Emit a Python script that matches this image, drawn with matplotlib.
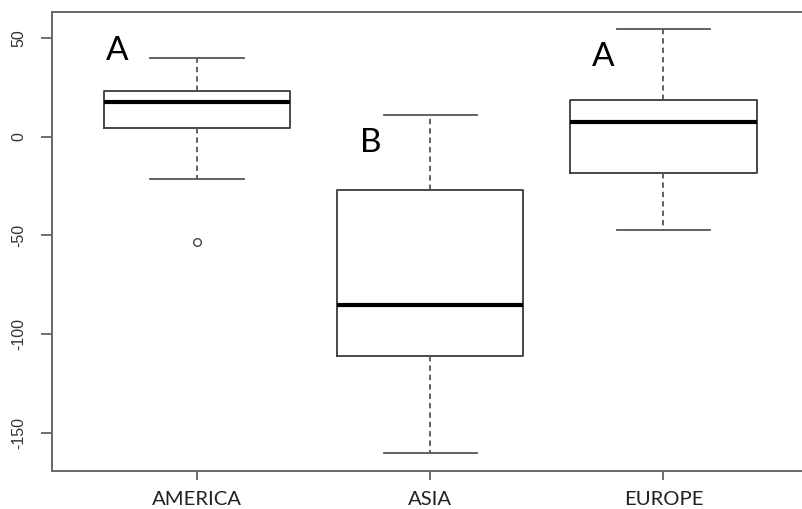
import matplotlib
matplotlib.use("Agg")
import matplotlib.pyplot as plt

categories = ["AMERICA", "ASIA", "EUROPE"]
whisker_low = [-21.5, -160.5, -47.3]
q1 = [4.3, -111.4, -18.3]
median = [17.6, -85.3, 7.6]
q3 = [23.0, -27.2, 18.6]
whisker_high = [39.9, 11.0, 54.6]
outliers = [[-53.4], [], []]
letters = ["A", "B", "A"]
letter_x = [0.659, 1.746, 2.740]
letter_y = [43.5, -3.2, 40.2]
yticks = [-150, -100, -50, 0, 50]

W, H = 802, 509
fig = plt.figure(figsize=(W / 100, H / 100), dpi=100)
left, right, top, bottom = 51.7, 808.0, 11.7, 470.7
ax = fig.add_axes([left / W, 1 - bottom / H, (right - left) / W, (bottom - top) / H])

stats = []
for i, c in enumerate(categories):
    stats.append(dict(label=c, med=median[i], q1=q1[i], q3=q3[i],
                      whislo=whisker_low[i], whishi=whisker_high[i],
                      fliers=outliers[i]))

edge = "#3a3a3a"
ax.bxp(stats, positions=[1, 2, 3], widths=0.8, showfliers=True,
       boxprops=dict(color=edge, linewidth=1.3),
       medianprops=dict(color="black", linewidth=3.0),
       whiskerprops=dict(color="#555555", linewidth=1.3, linestyle=(0, (3.0, 2.2))),
       capprops=dict(color="#555555", linewidth=1.3),
       capwidths=0.4,
       flierprops=dict(marker="o", markersize=5.5, markerfacecolor="white",
                       markeredgecolor="#444444", markeredgewidth=1.0))

for lx, ly, t in zip(letter_x, letter_y, letters):
    ax.text(lx, ly, t, ha="center", va="center", fontsize=24, family="Lato", color="black")

ax.set_xlim(0.377, 3.62)
ax.set_ylim(-169.3, 63.4)
ax.set_yticks(yticks)
ax.set_yticklabels([str(v) for v in yticks], rotation=90, va="center",
                   fontsize=11.5, family="Liberation Sans", color="#333333")
ax.set_xticks([1, 2, 3])
ax.set_xticklabels(categories, fontsize=14.6, family="Lato", color="#222222")
ax.tick_params(axis="y", length=7.7, width=1.2, color="#555555", pad=10.8)
ax.tick_params(axis="x", length=6.5, width=1.2, color="#555555", pad=8)
for s in ax.spines.values():
    s.set_color("#666666")
    s.set_linewidth(1.4)

fig.savefig("out.png", dpi=100)
